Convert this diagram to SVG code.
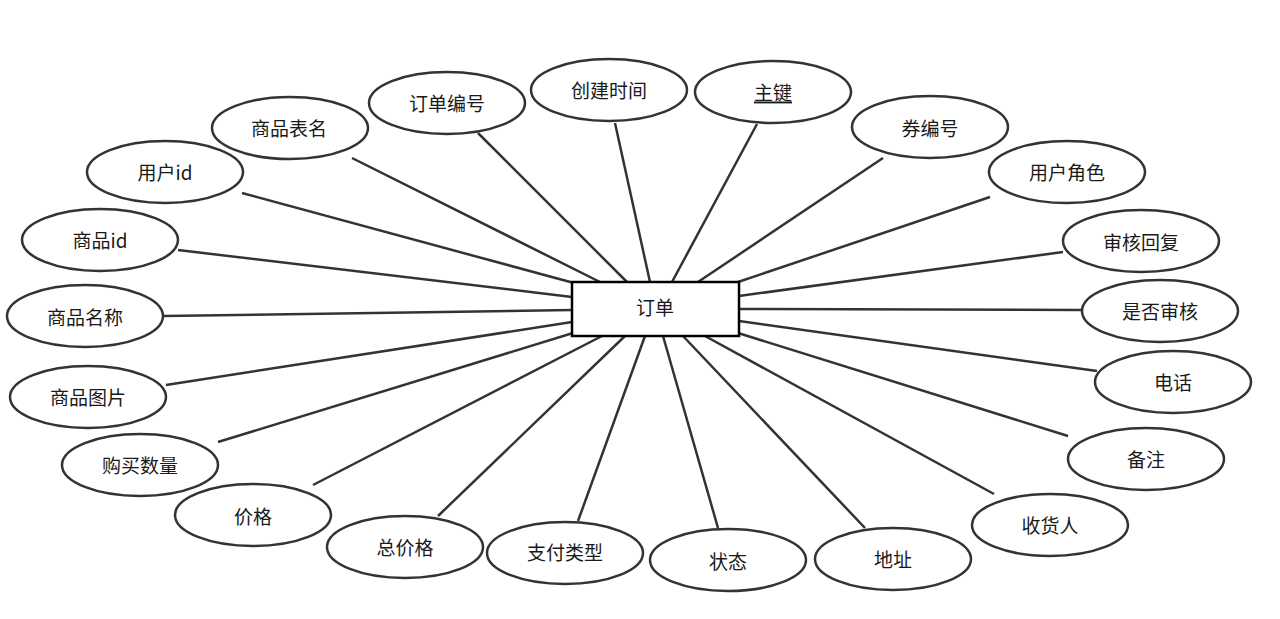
<svg xmlns="http://www.w3.org/2000/svg" width="1280" height="619" viewBox="0 0 1280 619">
<style>
.attr ellipse{fill:#fff;stroke:#333;stroke-width:2.5}
text{font-family:"Noto Sans CJK SC","Noto Sans",sans-serif;font-size:19px;fill:#1a1a1a;text-anchor:middle;dominant-baseline:central}
#links line{stroke:#333;stroke-width:2.5}
</style>
<rect width="1280" height="619" fill="#fff"/>
<g id="links">
<line x1="352" y1="158" x2="600" y2="282"/>
<line x1="242" y1="193" x2="574" y2="283"/>
<line x1="178" y1="250" x2="572" y2="297"/>
<line x1="163" y1="316" x2="572" y2="310"/>
<line x1="166" y1="385" x2="572" y2="322"/>
<line x1="218" y1="442" x2="573" y2="333"/>
<line x1="313" y1="485" x2="602" y2="336"/>
<line x1="438" y1="516" x2="625" y2="336"/>
<line x1="578" y1="521" x2="645" y2="336"/>
<line x1="718" y1="528" x2="663" y2="336"/>
<line x1="865" y1="528" x2="683" y2="336"/>
<line x1="994" y1="494" x2="705" y2="336"/>
<line x1="1068" y1="436" x2="738" y2="333"/>
<line x1="1097" y1="371" x2="739" y2="321"/>
<line x1="1082" y1="310" x2="739" y2="309"/>
<line x1="1063" y1="252" x2="739" y2="296"/>
<line x1="990" y1="197" x2="738" y2="282"/>
<line x1="883" y1="158" x2="698" y2="282"/>
<line x1="757" y1="124" x2="672" y2="282"/>
<line x1="615" y1="123" x2="650" y2="282"/>
<line x1="478" y1="133" x2="627" y2="282"/>
</g>
<g id="order">
<rect x="572" y="282" width="167" height="54" fill="#fff" stroke="#000" stroke-width="2.5"/>
<text x="655" y="306">订单</text>
</g>
<g id="a1" class="attr"><ellipse cx="290" cy="128" rx="78" ry="31"/><text x="289" y="127">商品表名</text></g>
<g id="a2" class="attr"><ellipse cx="165" cy="172" rx="78" ry="31"/><text x="165" y="171">用户id</text></g>
<g id="a3" class="attr"><ellipse cx="100" cy="240" rx="78" ry="31"/><text x="100" y="239">商品id</text></g>
<g id="a4" class="attr"><ellipse cx="85" cy="316" rx="78" ry="31"/><text x="85" y="316">商品名称</text></g>
<g id="a5" class="attr"><ellipse cx="88" cy="397" rx="78" ry="31"/><text x="88" y="396">商品图片</text></g>
<g id="a6" class="attr"><ellipse cx="140" cy="465" rx="78" ry="31"/><text x="140" y="464">购买数量</text></g>
<g id="a7" class="attr"><ellipse cx="253" cy="515" rx="78" ry="31"/><text x="253" y="515">价格</text></g>
<g id="a8" class="attr"><ellipse cx="405" cy="547" rx="78" ry="31"/><text x="405" y="546">总价格</text></g>
<g id="a9" class="attr"><ellipse cx="565" cy="553" rx="78" ry="31"/><text x="565" y="551">支付类型</text></g>
<g id="a10" class="attr"><ellipse cx="728" cy="560" rx="78" ry="31"/><text x="728" y="560">状态</text></g>
<g id="a11" class="attr"><ellipse cx="893" cy="559" rx="78" ry="31"/><text x="893" y="558">地址</text></g>
<g id="a12" class="attr"><ellipse cx="1050" cy="525" rx="78" ry="31"/><text x="1050" y="524">收货人</text></g>
<g id="a13" class="attr"><ellipse cx="1146" cy="459" rx="78" ry="31"/><text x="1146" y="458">备注</text></g>
<g id="a14" class="attr"><ellipse cx="1173" cy="382" rx="78" ry="31"/><text x="1173" y="381">电话</text></g>
<g id="a15" class="attr"><ellipse cx="1160" cy="311" rx="78" ry="31"/><text x="1160" y="310">是否审核</text></g>
<g id="a16" class="attr"><ellipse cx="1141" cy="241" rx="78" ry="31"/><text x="1141" y="241">审核回复</text></g>
<g id="a17" class="attr"><ellipse cx="1067" cy="172" rx="78" ry="31"/><text x="1067" y="171">用户角色</text></g>
<g id="a18" class="attr"><ellipse cx="930" cy="127" rx="78" ry="31"/><text x="930" y="127">券编号</text></g>
<g id="a19" class="attr"><ellipse cx="773" cy="92" rx="78" ry="31"/><text x="773" y="91" text-decoration="underline">主键</text></g>
<g id="a20" class="attr"><ellipse cx="609" cy="90" rx="78" ry="31"/><text x="609" y="89">创建时间</text></g>
<g id="a21" class="attr"><ellipse cx="447" cy="103" rx="78" ry="31"/><text x="447" y="102">订单编号</text></g>
</svg>
